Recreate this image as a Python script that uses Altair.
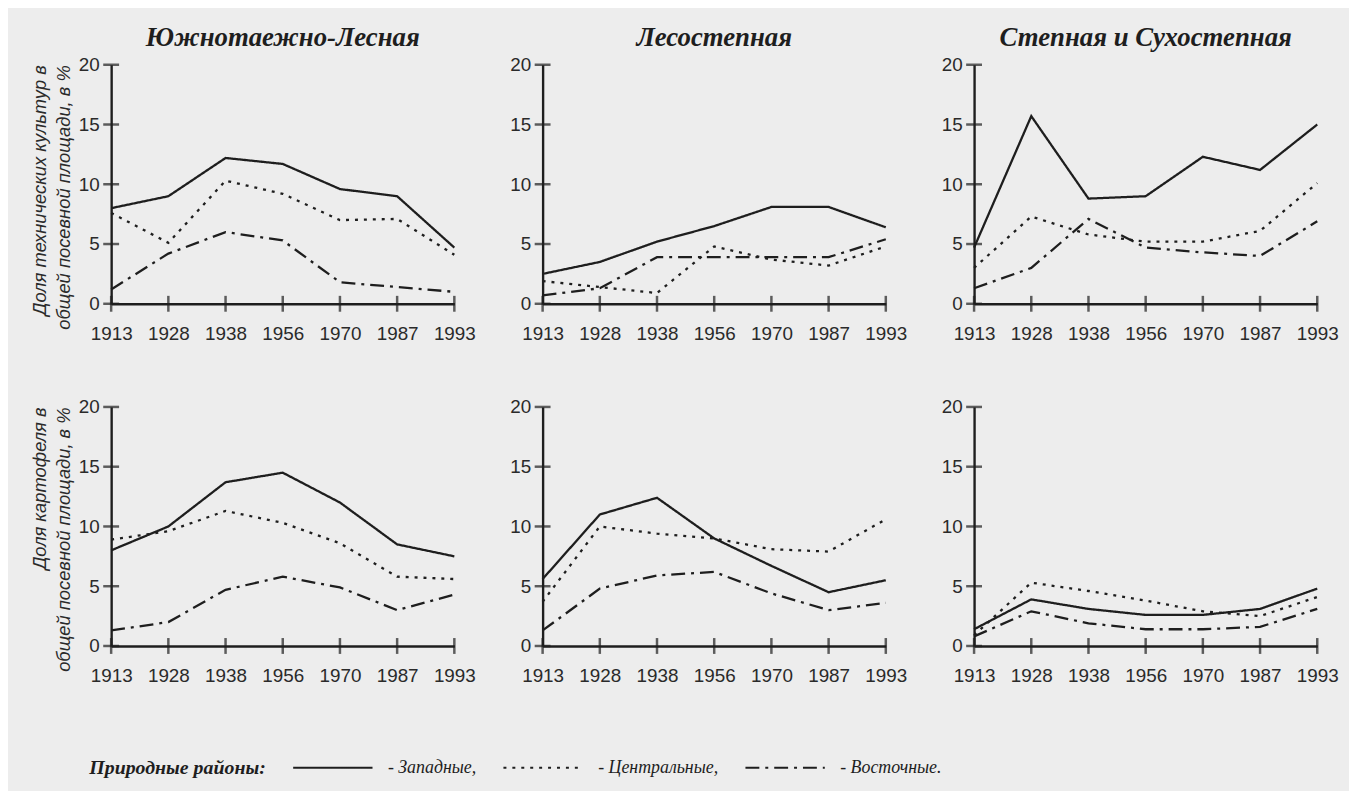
import altair as alt
import pandas as pd

INK = "#1e1e1e"

years = ["1913", "1928", "1938", "1956", "1970", "1987", "1993"]
series = ["Западные", "Центральные", "Восточные"]
zones = ["Южнотаежно-Лесная", "Лесостепная", "Степная и Сухостепная"]
y_ticks = [0, 5, 10, 15, 20]

# Доля технических культур (верхний ряд)
tech_forest_west = [8.0, 9.0, 12.2, 11.7, 9.6, 9.0, 4.7]
tech_forest_central = [7.6, 5.1, 10.3, 9.2, 7.0, 7.1, 4.1]
tech_forest_east = [1.2, 4.2, 6.0, 5.3, 1.8, 1.4, 1.0]
tech_foreststeppe_west = [2.5, 3.5, 5.2, 6.5, 8.1, 8.1, 6.4]
tech_foreststeppe_central = [1.9, 1.4, 0.9, 4.8, 3.7, 3.2, 4.8]
tech_foreststeppe_east = [0.7, 1.3, 3.9, 3.9, 3.9, 3.9, 5.4]
tech_steppe_west = [4.7, 15.7, 8.8, 9.0, 12.3, 11.2, 15.0]
tech_steppe_central = [3.0, 7.3, 5.8, 5.2, 5.2, 6.1, 10.1]
tech_steppe_east = [1.3, 3.0, 7.1, 4.7, 4.3, 4.0, 6.9]

# Доля картофеля (нижний ряд)
potato_forest_west = [8.0, 10.0, 13.7, 14.5, 12.0, 8.5, 7.5]
potato_forest_central = [8.9, 9.6, 11.3, 10.3, 8.6, 5.8, 5.6]
potato_forest_east = [1.3, 2.0, 4.7, 5.8, 4.9, 3.0, 4.3]
potato_foreststeppe_west = [5.6, 11.0, 12.4, 9.0, 6.7, 4.5, 5.5]
potato_foreststeppe_central = [3.7, 10.0, 9.4, 9.0, 8.1, 7.9, 10.6]
potato_foreststeppe_east = [1.3, 4.8, 5.9, 6.2, 4.4, 3.0, 3.6]
potato_steppe_west = [1.4, 3.9, 3.1, 2.6, 2.6, 3.1, 4.8]
potato_steppe_central = [0.9, 5.3, 4.6, 3.8, 2.9, 2.5, 4.1]
potato_steppe_east = [0.8, 2.9, 1.9, 1.4, 1.4, 1.6, 3.1]

tech_title = ["Доля технических культур в", "общей посевной площади, в %"]
potato_title = ["Доля картофеля в", "общей посевной площади, в %"]

panels_data = [
    [
        [tech_forest_west, tech_forest_central, tech_forest_east],
        [tech_foreststeppe_west, tech_foreststeppe_central, tech_foreststeppe_east],
        [tech_steppe_west, tech_steppe_central, tech_steppe_east],
    ],
    [
        [potato_forest_west, potato_forest_central, potato_forest_east],
        [potato_foreststeppe_west, potato_foreststeppe_central, potato_foreststeppe_east],
        [potato_steppe_west, potato_steppe_central, potato_steppe_east],
    ],
]
row_titles = [tech_title, potato_title]

W, H = 346, 241

x_scale = alt.Scale(type="point", domain=years, padding=0)
y_scale = alt.Scale(domain=[0, 20], nice=False)

legend = alt.Legend(
    title="Природные районы:",
    orient="none",
    legendX=-22,
    legendY=667,
    direction="horizontal",
    titleOrient="left",
    titleBaseline="line-top",
    titleLineHeight=34,
    titleFont="Liberation Serif",
    titleFontSize=20,
    titleFontStyle="italic",
    titleFontWeight="bold",
    titleColor=INK,
    titlePadding=26,
    symbolType="stroke",
    symbolSize=6400,
    symbolStrokeWidth=2.2,
    symbolStrokeColor=INK,
    labelFont="Liberation Serif",
    labelFontStyle="italic",
    labelFontSize=18,
    labelColor=INK,
    labelOffset=14,
    columnPadding=22,
    padding=0,
    labelExpr="datum.label == 'Восточные' ? '- ' + datum.label + '.' : '- ' + datum.label + ','",
)


def panel(row, col):
    rows = []
    for s, vals in zip(series, panels_data[row][col]):
        for yr, v in zip(years, vals):
            rows.append({"year": yr, "value": v, "series": s})
    df = pd.DataFrame(rows)

    ytitle = row_titles[row] if col == 0 else None

    lines = alt.Chart(df).mark_line(color=INK, strokeWidth=2.3).encode(
        x=alt.X("year:O", scale=x_scale, axis=alt.Axis(title=None, labelAngle=0)),
        y=alt.Y("value:Q", scale=y_scale, axis=alt.Axis(values=y_ticks, title=ytitle)),
        strokeDash=alt.StrokeDash(
            "series:N",
            scale=alt.Scale(domain=series, range=[[1, 0], [3, 6], [14, 6, 3, 6]]),
            legend=legend,
        ),
    )

    xt = pd.DataFrame({"year": years, "value": [0] * len(years)})
    x_ticks = alt.Chart(xt).mark_tick(orient="vertical", size=16, thickness=2.5, color=INK).encode(
        x=alt.X("year:O", scale=x_scale),
        y=alt.Y("value:Q", scale=y_scale),
    )
    yt = pd.DataFrame({"year": [years[0]] * len(y_ticks), "value": y_ticks})
    y_tk = alt.Chart(yt).mark_tick(orient="horizontal", size=16, thickness=2.5, color=INK).encode(
        x=alt.X("year:O", scale=x_scale),
        y=alt.Y("value:Q", scale=y_scale),
    )

    layer = alt.layer(lines, x_ticks, y_tk).properties(width=W, height=H)
    if row == 0:
        layer = layer.properties(
            title=alt.TitleParams(
                text=zones[col],
                font="Liberation Serif",
                fontSize=27,
                fontStyle="italic",
                fontWeight="bold",
                color=INK,
                frame="group",
                anchor="middle",
                offset=4,
            )
        )
    return layer


panels = [panel(r, c) for r in range(2) for c in range(3)]

chart = (
    alt.concat(*panels, columns=3, spacing={"row": 104, "column": 89}, bounds="flush")
    .resolve_scale(strokeDash="shared")
    .properties(
        background="#ededed",
        padding={"left": 22, "top": 13, "right": 10, "bottom": 10},
    )
    .configure_view(stroke=None)
    .configure_axis(
        domainColor=INK,
        domainWidth=2.4,
        ticks=False,
        grid=False,
        labelFont="Liberation Sans",
        labelFontSize=19,
        labelColor="#2a2a2a",
        titleFont="Liberation Sans",
        titleFontSize=18.5,
        titleFontStyle="italic",
        titleFontWeight="normal",
        titleColor="#2a2a2a",
        titleAnchor="end",
        titleLineHeight=24,
    )
    .configure_axisX(labelPadding=21)
    .configure_axisY(labelPadding=12, titlePadding=5)
)

chart.save("out.html", embed_options={"renderer": "svg", "actions": False})
